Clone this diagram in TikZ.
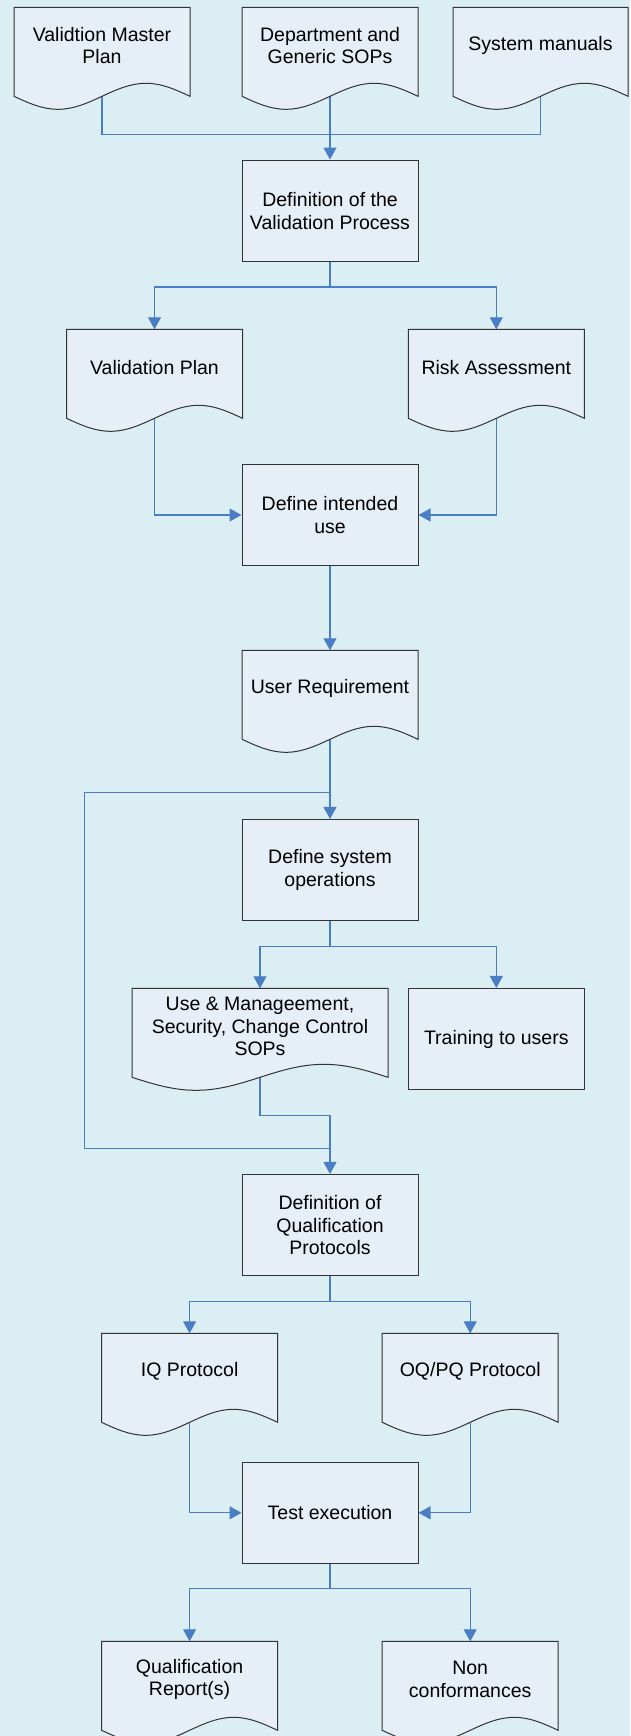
\documentclass[tikz,border=0pt]{standalone}
\usepackage{fontspec}
\setmainfont{Liberation Sans}
\usetikzlibrary{arrows.meta,calc}
\definecolor{bgc}{HTML}{DBEEF4}
\definecolor{boxfill}{HTML}{E6EEF8}
\definecolor{conn}{HTML}{4A7EC4}
\pgfdeclarelayer{bg}
\pgfdeclarelayer{lines}
\pgfdeclarelayer{shapes}
\pgfsetlayers{bg,lines,shapes,main}
% #1 = node name, #2 = width of the document shape
\newcommand{\docoutline}[2]{%
  \begin{pgfonlayer}{shapes}
    \path[docshape] ($(#1.north)+(-#2/2,0)$) -- ($(#1.north)+(#2/2,0)$)
      -- ($(#1.north)+(#2/2,89)$)
      sin ($(#1.north)+(#2/4,76)$)
      cos ($(#1.north)+(0,89)$)
      sin ($(#1.north)+(-#2/4,102)$)
      cos ($(#1.north)+(-#2/2,89)$) -- cycle;
  \end{pgfonlayer}
  \coordinate (#1-out) at ($(#1.north)+(0,89)$);%
}
\begin{document}
\begin{tikzpicture}[x=1pt,y=-1pt,
  txt/.style={font=\fontsize{19.5}{22.7}\selectfont, align=center, text=black},
  procbox/.style={txt, rectangle, draw=black!80, line width=1pt, fill=boxfill,
    minimum width=176pt, minimum height=101.5pt, inner sep=2pt},
  docnode/.style={txt, rectangle, anchor=north, minimum width=#1,
    minimum height=76pt, inner sep=0pt},
  docshape/.style={draw=black!80, line width=1pt, fill=boxfill},
  link/.style={draw=conn, line width=1.1pt},
  arr/.style={link, -{Triangle[length=12pt,width=13pt]}},
]
\begin{pgfonlayer}{bg}
  \fill[bgc] (0,0) rectangle (630,1736);
\end{pgfonlayer}
\useasboundingbox (0,0) rectangle (630,1736);

% nodes
\node[docnode=176pt] (vmp) at (102,7.3) {Validtion Master\\Plan};
\node[docnode=176pt] (dgs) at (330,7.3) {Department and\\Generic SOPs};
\node[docnode=175pt] (sm) at (540.5,7.3) {System manuals};
\node[procbox] (dvp) at (330,210.8) {Definition of the\\Validation Process};
\node[docnode=176pt] (vp) at (154.5,329.3) {Validation Plan};
\node[docnode=176pt] (ra) at (496.3,329.3) {Risk Assessment};
\node[procbox] (diu) at (330,515) {Define intended\\use};
\node[docnode=176pt] (ur) at (330,650.3) {User Requirement};
\node[procbox] (dso) at (330,870.2) {Define system\\operations};
\node[docnode=256pt] (um) at (260,988.3) {Use \& Manageement,\\Security, Change Control\\SOPs};
\node[procbox, minimum width=175.4pt] (tu) at (496.3,1039.2) {Training to users};
\node[procbox] (dqp) at (330,1225.2) {Definition of\\Qualification\\Protocols};
\node[docnode=176pt] (iq) at (189.6,1333.3) {IQ Protocol};
\node[docnode=176pt] (oq) at (470.2,1333.3) {OQ/PQ Protocol};
\node[procbox] (te) at (330,1512.8) {Test execution};
\node[docnode=176pt] (qr) at (189.6,1641.3) {Qualification\\Report(s)};
\node[docnode=176pt] (nc) at (470.2,1641.3) {Non\\conformances};

% document outlines
\docoutline{vmp}{176}
\docoutline{dgs}{176}
\docoutline{sm}{175}
\docoutline{vp}{176}
\docoutline{ra}{176}
\docoutline{ur}{176}
\docoutline{um}{256}
\docoutline{iq}{176}
\docoutline{oq}{176}
\docoutline{qr}{176}
\docoutline{nc}{176}

% junction points
\coordinate (j1) at (330,134.7);
\coordinate (j2) at (330,287);
\coordinate (j3) at (330,792.3);
\coordinate (lc1) at (84.4,792.3);
\coordinate (lc2) at (84.4,1148.7);
\coordinate (j4) at (330,1148.7);
\coordinate (j5) at (330,946.3);
\coordinate (j6) at (330,1115.3);
\coordinate (j7) at (330,1301.3);
\coordinate (j8) at (330,1588.3);

\begin{pgfonlayer}{lines}
  \draw[link] (vmp-out) |- (j1);
  \draw[link] (sm-out) |- (j1);
  \draw[arr] (dgs-out) -- (dvp.north);
  \draw[arr] (dvp.south) -- (j2) -| (vp.north);
  \draw[arr] (j2) -| (ra.north);
  \draw[arr] (vp-out) |- (diu.west);
  \draw[arr] (ra-out) |- (diu.east);
  \draw[arr] (diu.south) -- (ur.north);
  \draw[arr] (ur-out) -- (dso.north);
  \draw[link] (j3) -- (lc1) -- (lc2) -- (j4);
  \draw[arr] (dso.south) -- (j5) -| (um.north);
  \draw[arr] (j5) -| (tu.north);
  \draw[arr] (um-out) |- (j6) -- (dqp.north);
  \draw[arr] (dqp.south) -- (j7) -| (iq.north);
  \draw[arr] (j7) -| (oq.north);
  \draw[arr] (iq-out) |- (te.west);
  \draw[arr] (oq-out) |- (te.east);
  \draw[arr] (te.south) -- (j8) -| (qr.north);
  \draw[arr] (j8) -| (nc.north);
\end{pgfonlayer}
\end{tikzpicture}
\end{document}
